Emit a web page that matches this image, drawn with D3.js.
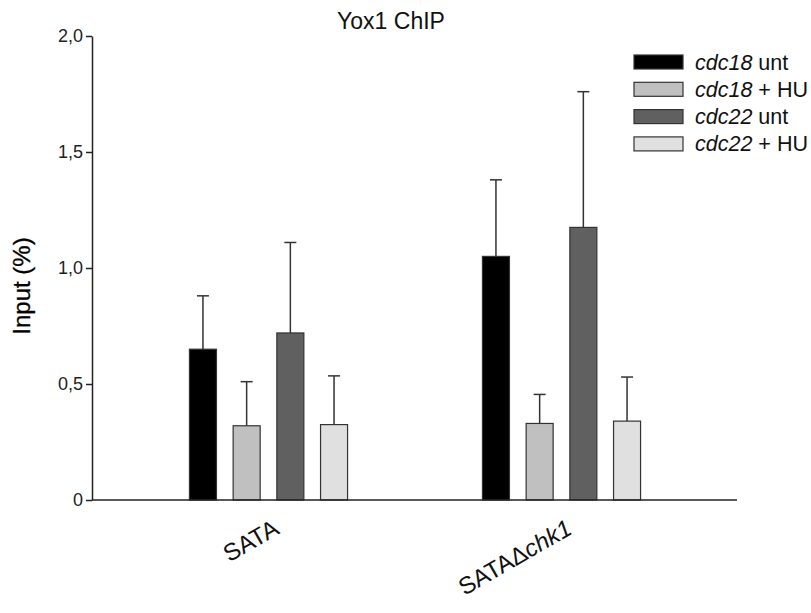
<!DOCTYPE html>
<html>
<head>
<meta charset="utf-8">
<script src="https://cdn.jsdelivr.net/npm/d3@7"></script>
<style>
  body { margin: 0; background: #fff; }
  svg { display: block; font-family: "Liberation Sans", Arial, sans-serif; }
</style>
</head>
<body>
<svg id="chart" width="811" height="613"></svg>
<script>
const groups = ["SATA", "SATAΔchk1"];
const seriesNames = ["cdc18 unt", "cdc18 + HU", "cdc22 unt", "cdc22 + HU"];
const seriesItalic = ["cdc18", "cdc18", "cdc22", "cdc22"];
const seriesRest = [" unt", " + HU", " unt", " + HU"];
const seriesColors = ["#000000", "#c0c0c0", "#606060", "#e0e0e0"];
const cdc18Unt = [0.65, 1.05];
const cdc18UntErr = [0.23, 0.33];
const cdc18HU = [0.32, 0.33];
const cdc18HUErr = [0.19, 0.125];
const cdc22Unt = [0.72, 1.175];
const cdc22UntErr = [0.39, 0.585];
const cdc22HU = [0.325, 0.34];
const cdc22HUErr = [0.21, 0.19];
const yTicks = [0, 0.5, 1.0, 1.5, 2.0];
const yTickLabels = ["0", "0,5", "1,0", "1,5", "2,0"];

const values = [cdc18Unt, cdc18HU, cdc22Unt, cdc22HU];
const errors = [cdc18UntErr, cdc18HUErr, cdc22UntErr, cdc22HUErr];

const svg = d3.select("#chart");
const axisLeftX = 92, axisRightX = 737;

const y = d3.scaleLinear().domain([0, 2]).range([500, 36]);
const x0 = d3.scaleBand().domain(groups).range([122, 708]).paddingInner(0).paddingOuter(0);
const x1 = d3.scaleBand().domain(seriesNames).range([0, 174.8]).paddingInner(0.382).paddingOuter(0.191);
const groupOffset = g => x0(g) + x0.bandwidth() / 2 - 87.4;

// Title
svg.append("text").attr("x", 391).attr("y", 29).attr("text-anchor", "middle")
  .attr("font-size", 23).attr("fill", "#111").text("Yox1 ChIP");

// Y axis
const yAxis = d3.axisLeft(y).tickValues(yTicks)
  .tickFormat((d, i) => yTickLabels[i]).tickSize(6).tickSizeOuter(0).tickPadding(3);
const ya = svg.append("g").attr("transform", `translate(${axisLeftX},0)`).call(yAxis);
ya.select(".domain").attr("stroke", "#222").attr("stroke-width", 1.5);
ya.selectAll(".tick line").attr("stroke", "#222").attr("stroke-width", 1.5);
ya.selectAll(".tick text").attr("font-size", 18).attr("fill", "#222")
  .attr("font-family", "'Liberation Sans', Arial, sans-serif");

svg.append("text")
  .attr("transform", "translate(30,286) rotate(-90)")
  .attr("text-anchor", "middle").attr("font-size", 24).attr("fill", "#000")
  .attr("stroke", "#000").attr("stroke-width", 0.3)
  .text("Input (%)");

// Bars
seriesNames.forEach((s, si) => {
  const g = svg.append("g");
  groups.forEach((grp, gi) => {
    const v = values[si][gi], e = errors[si][gi];
    const bx = groupOffset(grp) + x1(s);
    const cx = bx + x1.bandwidth() / 2;
    g.append("line").attr("x1", cx).attr("x2", cx)
      .attr("y1", y(v)).attr("y2", y(v + e)).attr("stroke", "#333").attr("stroke-width", 1.5);
    g.append("line").attr("x1", cx - 6).attr("x2", cx + 6)
      .attr("y1", y(v + e)).attr("y2", y(v + e)).attr("stroke", "#333").attr("stroke-width", 1.5);
    g.append("rect").attr("x", bx).attr("y", y(v))
      .attr("width", x1.bandwidth()).attr("height", y(0) - y(v))
      .attr("fill", seriesColors[si]).attr("stroke", "#333").attr("stroke-width", 1.2);
  });
});

// X axis line
svg.append("line").attr("x1", axisLeftX).attr("x2", axisRightX)
  .attr("y1", y(0)).attr("y2", y(0)).attr("stroke", "#222").attr("stroke-width", 1.5);

// X labels
groups.forEach(grp => {
  const cx = x0(grp) + x0.bandwidth() / 2;
  const t = svg.append("text")
    .attr("transform", `translate(${cx + 12},533) rotate(-30)`)
    .attr("text-anchor", "end").attr("font-size", 24).attr("fill", "#111");
  if (grp.indexOf("Δ") >= 0) {
    const parts = grp.split("Δ");
    t.append("tspan").text(parts[0] + "Δ");
    t.append("tspan").attr("font-style", "italic").text(parts[1]);
  } else {
    t.text(grp);
  }
});

// Legend
seriesNames.forEach((s, i) => {
  const ly = 55 + i * 27.3;
  svg.append("rect").attr("x", 634).attr("y", ly).attr("width", 49).attr("height", 14)
    .attr("fill", seriesColors[i]).attr("stroke", "#333").attr("stroke-width", 1.2);
  const t = svg.append("text").attr("x", 695).attr("y", ly + 14.5).attr("font-size", 21.5).attr("fill", "#111");
  t.append("tspan").attr("font-style", "italic").text(seriesItalic[i]);
  t.append("tspan").text(seriesRest[i]);
});
</script>
</body>
</html>
